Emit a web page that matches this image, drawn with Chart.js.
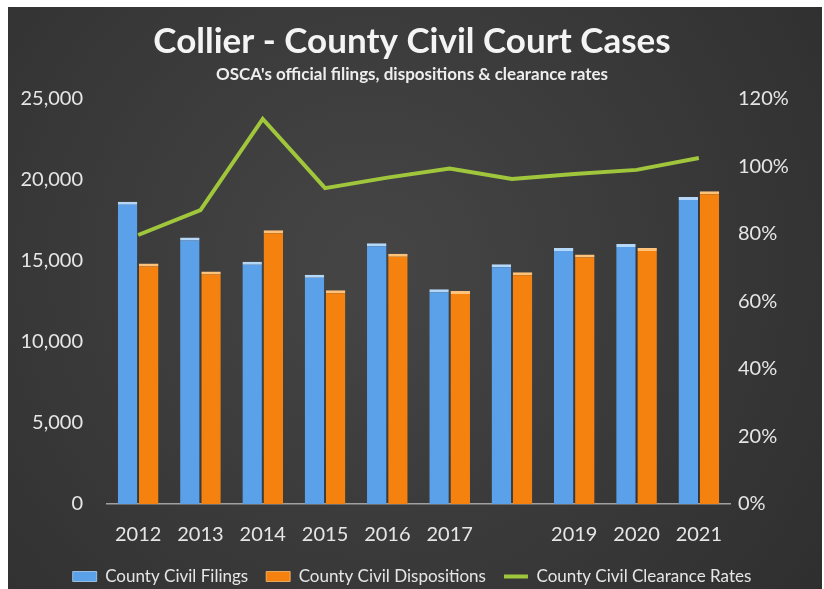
<!DOCTYPE html>
<html>
<head>
<meta charset="utf-8">
<script src="https://cdn.jsdelivr.net/npm/chart.js@4/dist/chart.umd.min.js"></script>
<style>
  html, body { margin: 0; padding: 0; background: #fff; }
  #wrap { width: 824px; height: 589px; }
</style>
</head>
<body>
<div id="wrap"><canvas id="myChart" width="824" height="589"></canvas></div>
<script>
// data
var years = ['2012', '2013', '2014', '2015', '2016', '2017', '2018', '2019', '2020', '2021'];
var yearLabels = ['2012', '2013', '2014', '2015', '2016', '2017', '', '2019', '2020', '2021'];
var filings = [18650, 16450, 14950, 14150, 16100, 13250, 14800, 15800, 16050, 18950];
var dispositions = [14850, 14350, 16900, 13200, 15450, 13150, 14300, 15400, 15800, 19300];
var clearanceRates = [79.7, 87.1, 114.1, 93.6, 96.7, 99.4, 96.3, 97.8, 99.0, 102.5];

var FONT = 'Lato, "Liberation Sans", sans-serif';
var TEXT = '#e6e6e6';

// dark chalkboard background
var bgPlugin = {
  id: 'bg',
  beforeDraw: function(chart) {
    var c = chart.ctx;
    var w = chart.width, h = chart.height;
    c.save();
    c.fillStyle = '#ffffff';
    c.fillRect(0, 0, w, h);
    var g = c.createRadialGradient(w * 0.45, h * 0.45, 40, w * 0.45, h * 0.45, w * 0.7);
    g.addColorStop(0, '#444444');
    g.addColorStop(1, '#2e2e2e');
    c.fillStyle = g;
    c.fillRect(8, 7, w - 10, h - 7);
    c.restore();
  }
};

var ctx = document.getElementById('myChart').getContext('2d');
var myChart = new Chart(ctx, {
  type: 'bar',
  data: {
    labels: years,
    datasets: [{
      label: 'County Civil Filings',
      data: filings,
      backgroundColor: '#5ba1e9',
      borderColor: '#b5d8f8',
      borderWidth: { top: 3, left: 0, right: 0, bottom: 0 },
      borderSkipped: 'bottom',
      pointStyle: 'rect',
      yAxisID: 'y',
      categoryPercentage: 0.68,
      barPercentage: 0.92
    }, {
      label: 'County Civil Dispositions',
      data: dispositions,
      backgroundColor: '#f5820e',
      borderColor: '#ffc27a',
      borderWidth: { top: 3, left: 0, right: 0, bottom: 0 },
      borderSkipped: 'bottom',
      pointStyle: 'rect',
      yAxisID: 'y',
      categoryPercentage: 0.68,
      barPercentage: 0.92
    }, {
      type: 'line',
      label: 'County Civil Clearance Rates',
      data: clearanceRates,
      borderColor: '#a0c63c',
      backgroundColor: '#a0c63c',
      borderWidth: 4,
      pointRadius: 0,
      tension: 0,
      pointStyle: 'line',
      yAxisID: 'y1',
      order: -1
    }]
  },
  options: {
    responsive: false,
    animation: false,
    devicePixelRatio: 1,
    layout: { padding: { left: 0, right: 0, top: 0, bottom: -6 } },
    plugins: {
      title: {
        display: true,
        text: 'Collier - County Civil Court Cases',
        color: '#f4f4f4',
        font: { family: FONT, size: 35, weight: 'bold' },
        padding: { top: 21, bottom: 0 }
      },
      subtitle: {
        display: true,
        text: "OSCA's official filings, dispositions & clearance rates",
        color: '#eeeeee',
        font: { family: FONT, size: 17, weight: 'bold' },
        padding: { top: 1, bottom: 14.6 }
      },
      legend: {
        position: 'bottom',
        labels: {
          color: TEXT,
          font: { family: FONT, size: 17 },
          usePointStyle: true,
          pointStyleWidth: 24,
          boxHeight: 10,
          padding: 18,
          sort: function(a, b) { return a.datasetIndex - b.datasetIndex; }
        }
      },
      tooltip: { enabled: false }
    },
    scales: {
      x: {
        grid: { display: false, drawTicks: false },
        border: { display: true, color: '#a0a0a0', width: 1.5 },
        ticks: {
          color: TEXT,
          font: { family: FONT, size: 20 },
          padding: 19,
          autoSkip: false,
          maxRotation: 0,
          callback: function(v, i) { return yearLabels[i]; }
        },
        afterFit: function(s) { s.height = 46; }
      },
      y: {
        position: 'left',
        min: 0,
        max: 25000,
        grid: { display: false, drawTicks: false },
        border: { display: false },
        ticks: {
          stepSize: 5000,
          color: TEXT,
          font: { family: FONT, size: 20 },
          padding: 24,
          callback: function(v) { return v.toLocaleString('en-US'); }
        },
        afterFit: function(s) { s.width = 107; }
      },
      y1: {
        position: 'right',
        min: 0,
        max: 120,
        grid: { display: false, drawTicks: false },
        border: { display: false },
        ticks: {
          stepSize: 20,
          color: TEXT,
          font: { family: FONT, size: 20 },
          padding: 8,
          callback: function(v) { return v + '%'; }
        },
        afterFit: function(s) { s.width = 94; }
      }
    }
  },
  plugins: [bgPlugin]
});
</script>
</body>
</html>
